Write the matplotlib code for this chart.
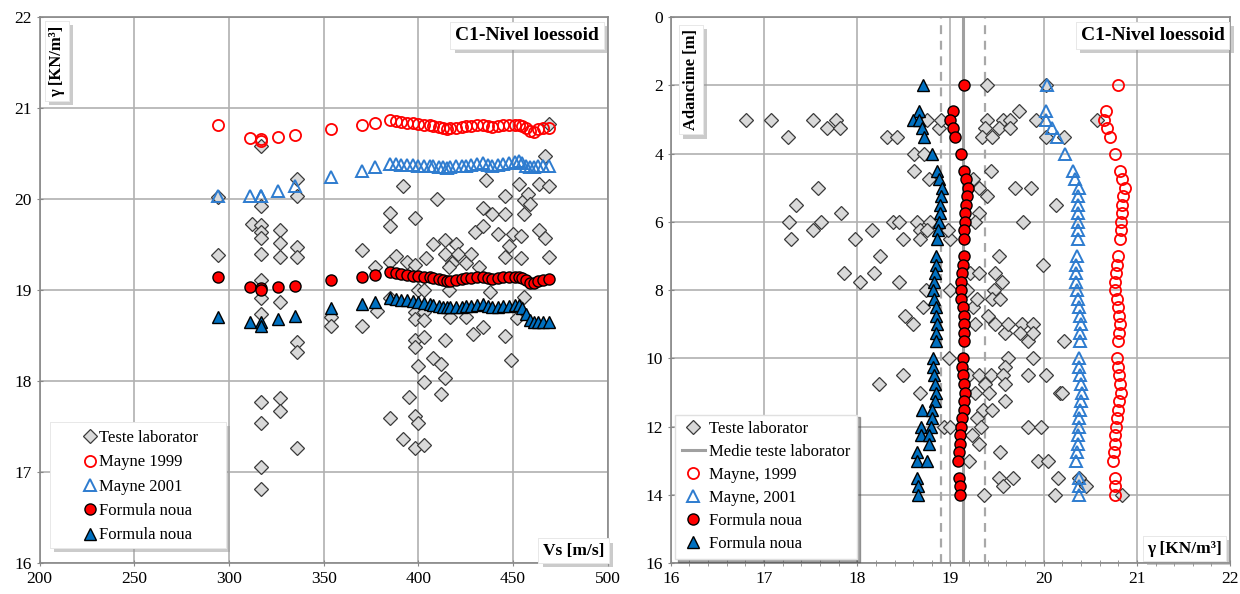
import numpy as np
import matplotlib
matplotlib.use('Agg')
import matplotlib.pyplot as plt
import matplotlib.patheffects as pe
from matplotlib.patches import Rectangle
from matplotlib.ticker import MultipleLocator

plt.rcParams['font.family'] = ['Liberation Serif', 'DejaVu Serif']

# --- gamma calculat in functie de Vs ---
vs = [294, 311, 317, 317, 326, 335, 354, 370, 377, 385, 388, 391, 394, 397,
      400, 403, 406, 408, 411, 413, 415, 417, 420, 423, 425, 428, 431, 434,
      437, 439, 442, 445, 448, 451, 453, 455, 457, 459, 461, 463, 466, 469]
g99_vs = [20.81, 20.67, 20.66, 20.64, 20.68, 20.71, 20.77, 20.82, 20.84, 20.87,
          20.86, 20.85, 20.84, 20.84, 20.83, 20.82, 20.81, 20.80, 20.79, 20.78,
          20.77, 20.78, 20.78, 20.79, 20.80, 20.80, 20.81, 20.82, 20.80, 20.79,
          20.80, 20.81, 20.81, 20.82, 20.82, 20.80, 20.78, 20.75, 20.74, 20.77,
          20.78, 20.78]
g01_vs = [20.04, 20.04, 20.04, 20.03, 20.09, 20.14, 20.24, 20.31, 20.35, 20.39,
          20.39, 20.38, 20.38, 20.38, 20.37, 20.37, 20.36, 20.36, 20.35, 20.35,
          20.34, 20.35, 20.36, 20.37, 20.37, 20.38, 20.39, 20.40, 20.38, 20.37,
          20.38, 20.39, 20.40, 20.41, 20.42, 20.40, 20.37, 20.35, 20.35, 20.37,
          20.37, 20.37]
gnc_vs = [19.14, 19.03, 19.02, 19.00, 19.03, 19.05, 19.11, 19.15, 19.17, 19.20,
          19.19, 19.18, 19.17, 19.16, 19.16, 19.15, 19.14, 19.13, 19.12, 19.11,
          19.10, 19.10, 19.11, 19.12, 19.13, 19.13, 19.14, 19.15, 19.13, 19.12,
          19.13, 19.14, 19.14, 19.15, 19.15, 19.13, 19.11, 19.08, 19.08, 19.10,
          19.11, 19.12]
gnt_vs = [18.71, 18.65, 18.65, 18.61, 18.68, 18.72, 18.80, 18.85, 18.87, 18.91,
          18.90, 18.89, 18.89, 18.88, 18.87, 18.86, 18.85, 18.84, 18.83, 18.82,
          18.81, 18.81, 18.82, 18.82, 18.83, 18.83, 18.84, 18.85, 18.83, 18.81,
          18.82, 18.83, 18.83, 18.84, 18.84, 18.80, 18.74, 18.67, 18.65, 18.65,
          18.65, 18.65]

# teste de laborator (Vs, gamma)
lab_vs = [294, 294, 317, 312, 317, 317, 317, 317, 317, 317, 317, 317, 317, 317, 317, 317,
          327, 327, 327, 327, 327, 327, 336, 336, 336, 336, 336, 336, 336,
          354, 354, 370, 370, 377, 378, 385, 385, 385, 385, 385, 388,
          392, 392, 394, 395, 398, 398, 398, 398, 398, 398, 398, 398,
          400, 400, 400, 403, 403, 403, 403, 403, 403, 404,
          408, 408, 410, 412, 412, 414, 414, 414, 414, 416, 417, 418, 420, 421,
          425, 425, 428, 429, 430, 434, 434, 434, 436, 439, 438, 442, 446, 446,
          446, 446, 448, 449, 450, 452, 453, 454, 454, 456, 456, 456, 458, 459,
          464, 464, 467, 467, 469, 469, 469, 432, 416]
lab_g = [20.02, 19.39, 20.58, 19.73, 19.92, 19.72, 19.64, 19.57, 19.40, 19.11, 18.91, 18.74, 17.77, 17.54, 17.06, 16.81,
         19.66, 19.52, 19.37, 18.87, 17.82, 17.67, 20.22, 20.04, 19.47, 19.37, 18.43, 18.32, 17.26,
         18.71, 18.61, 19.44, 18.61, 19.26, 18.77, 19.85, 19.70, 19.31, 18.91, 17.59, 19.38,
         20.14, 17.36, 19.31, 17.83, 19.79, 19.28, 18.76, 18.68, 18.45, 18.38, 17.62, 17.26,
         19.00, 18.17, 17.54, 18.76, 18.67, 18.49, 17.99, 17.30, 19.00, 19.35,
         19.51, 18.25, 20.00, 18.19, 17.86, 19.55, 19.40, 18.45, 18.04, 19.00, 18.71, 19.30, 19.51, 19.40,
         19.30, 18.71, 19.40, 18.52, 19.64, 19.90, 19.70, 18.60, 20.21, 19.84, 18.98, 19.62, 20.03, 19.84,
         19.37, 18.50, 19.48, 18.23, 19.62, 18.69, 20.17, 19.59, 19.35, 19.99, 19.84, 18.92, 20.06, 19.95,
         20.17, 19.66, 19.57, 20.47, 20.83, 20.14, 19.37, 19.26, 19.26]

# --- gamma calculat in functie de adancime ---
depth = [2, 2.75, 3, 3.25, 3.5, 4, 4.5, 4.75, 5, 5.25, 5.5, 5.75, 6, 6.25, 6.5,
         7, 7.25, 7.5, 7.75, 8, 8.25, 8.5, 8.75, 9, 9.25, 9.5, 10, 10.25, 10.5,
         10.75, 11, 11.25, 11.5, 11.75, 12, 12.25, 12.5, 12.75, 13, 13.5, 13.75, 14]
g99_z = [20.80, 20.67, 20.65, 20.68, 20.71, 20.77, 20.82, 20.84, 20.87, 20.85,
         20.84, 20.84, 20.83, 20.83, 20.82, 20.80, 20.79, 20.78, 20.77, 20.76,
         20.79, 20.80, 20.81, 20.82, 20.81, 20.80, 20.79, 20.80, 20.81, 20.82,
         20.83, 20.81, 20.80, 20.79, 20.78, 20.77, 20.76, 20.75, 20.74, 20.77,
         20.77, 20.77]
g01_z = [20.04, 20.03, 20.03, 20.09, 20.14, 20.23, 20.31, 20.34, 20.38, 20.37,
         20.37, 20.37, 20.37, 20.37, 20.37, 20.36, 20.35, 20.35, 20.35, 20.36,
         20.37, 20.38, 20.39, 20.40, 20.39, 20.39, 20.38, 20.38, 20.39, 20.40,
         20.41, 20.40, 20.39, 20.38, 20.38, 20.37, 20.37, 20.36, 20.35, 20.38,
         20.38, 20.38]
gnc_z = [19.14, 19.03, 19.00, 19.03, 19.05, 19.11, 19.15, 19.17, 19.19, 19.18,
         19.17, 19.16, 19.16, 19.15, 19.14, 19.14, 19.13, 19.12, 19.11, 19.11,
         19.11, 19.13, 19.14, 19.15, 19.14, 19.14, 19.13, 19.12, 19.13, 19.15,
         19.16, 19.15, 19.14, 19.12, 19.11, 19.10, 19.10, 19.09, 19.08, 19.09,
         19.10, 19.10]
depth_t = [2, 2.75, 3, 3, 3.25, 3.5, 4, 4.5, 4.75, 5, 5.25, 5.5, 5.75, 6, 6.25, 6.5,
           7, 7.25, 7.5, 7.75, 8, 8.25, 8.5, 8.75, 9, 9.25, 9.5, 10, 10.25, 10.5,
           10.75, 11, 11.25, 11.5, 11.5, 11.75, 12, 12, 12.25, 12.25, 12.5, 12.75,
           13, 13, 13.5, 13.75, 14]
gnt_z = [18.71, 18.66, 18.60, 18.66, 18.69, 18.72, 18.80, 18.86, 18.88, 18.91,
         18.90, 18.89, 18.89, 18.88, 18.87, 18.86, 18.85, 18.84, 18.83, 18.82,
         18.81, 18.82, 18.84, 18.85, 18.86, 18.85, 18.84, 18.81, 18.81, 18.82,
         18.83, 18.84, 18.83, 18.70, 18.80, 18.80, 18.68, 18.79, 18.68, 18.77,
         18.77, 18.64, 18.64, 18.75, 18.64, 18.65, 18.65]

# teste de laborator (gamma, adancime)
lab_gz = [19.39, 20.03, 16.81, 17.07, 17.53, 17.77, 17.68, 17.82, 17.26, 18.32, 18.43,
          18.75, 18.88, 18.90, 19.39, 19.56, 19.73, 19.64, 19.92, 19.37, 19.52, 19.64,
          19.34, 19.45, 20.03, 20.22, 20.57, 18.61, 18.72, 18.61, 19.43, 18.77, 19.24,
          19.31, 19.39, 19.69, 19.86, 20.13, 17.58, 17.34, 17.83, 17.27, 17.61, 17.53,
          17.29, 17.98, 18.16, 18.38, 18.45, 18.49, 18.64, 18.67, 18.67, 18.78, 18.75,
          18.99, 18.97, 19.31, 19.26, 19.78, 18.24, 19.52, 19.99, 17.86, 18.03, 18.18,
          18.45, 19.21, 19.31, 19.48, 19.55, 18.74, 18.99, 19.18, 19.47, 18.51, 18.60,
          18.71, 19.24, 19.29, 19.45, 19.53, 19.40, 19.26, 19.48, 19.58, 19.62, 19.77,
          19.75, 19.83, 19.89, 19.89, 20.22, 18.98, 19.62, 19.89, 19.58, 18.49, 18.23,
          19.20, 19.31, 19.43, 19.56, 19.83, 20.03, 19.37, 19.59, 18.67, 19.26, 19.41,
          20.17, 20.20, 19.58, 19.35, 19.45, 19.29, 18.93, 18.99, 19.33, 19.83, 19.97,
          19.23, 19.31, 19.53, 19.20, 19.94, 20.05, 19.52, 19.67, 19.56, 20.15, 20.45,
          20.38, 19.36, 20.12, 20.84]
lab_z = [2, 2, 3, 3, 3, 3, 3.25, 3.25, 3.5, 3.5, 3.5,
         3, 3.25, 3, 3, 3, 2.75, 3, 3, 3.25, 3.25, 3.25,
         3.5, 3.5, 3.5, 3.5, 3, 4, 4, 4.5, 4.5, 4.75, 4.75,
         5, 5.25, 5, 5, 5.5, 5, 5.5, 5.75, 6, 6, 6.25,
         6.5, 6.5, 6.25, 6, 6, 6.5, 6, 6.25, 6.5, 6, 6.25,
         6.5, 6.25, 5.75, 6, 6, 7, 7, 7.25, 7.5, 7.75, 7.5,
         7.75, 7.5, 7.5, 7.5, 7.75, 8, 8, 8, 8, 8.75, 9,
         8.5, 8.5, 8.25, 8.25, 8.25, 8.75, 9, 9, 9.25, 9, 9,
         9.25, 9.5, 9, 9.25, 9.5, 10, 10, 10, 10.25, 10.5, 10.75,
         10.5, 10.5, 10.5, 10.5, 10.5, 10.5, 10.75, 10.75, 11, 11, 11,
         11, 11, 11.25, 11.5, 11.5, 11.75, 12, 12, 12, 12, 12,
         12.25, 12.5, 12.75, 13, 13, 13, 13.5, 13.5, 13.75, 13.5, 13.75,
         13.5, 14, 14, 14]

lab_mean = 19.13
lab_lo, lab_hi = 18.90, 19.37

red = '#ff0000'
blue = '#0070c0'
blue_open = '#2e7ccf'
grid_col = '#b0b0b0'

sty_lab = dict(ls='none', marker='D', ms=7.5, mfc='#d9d9d9', mec='#3a3a3a', mew=0.9)
sty_99 = dict(ls='none', marker='o', ms=8, mfc='none', mec=red, mew=1.3)
sty_01 = dict(ls='none', marker='^', ms=8, mfc='none', mec=blue_open, mew=1.4)
sty_nc = dict(ls='none', marker='o', ms=8, mfc=red, mec='black', mew=1.0)
sty_nt = dict(ls='none', marker='^', ms=8, mfc=blue, mec='black', mew=1.0)

shadow = [pe.withSimplePatchShadow(offset=(3, -3), shadow_rgbFace='#999999', alpha=0.5), pe.Normal()]


def label_box(ax, x, y, s, size=14, **kw):
    t = ax.text(x, y, s, transform=ax.transAxes, fontsize=size, fontweight='bold',
                zorder=10, bbox=dict(boxstyle='square,pad=0.25', fc='white', ec='#e6e6e6', lw=0.6),
                **kw)
    t.get_bbox_patch().set_path_effects(shadow)
    return t


def style_axes(ax):
    ax.grid(True, color=grid_col, lw=1.2)
    ax.set_axisbelow(True)
    for sp in ax.spines.values():
        sp.set_color('#888888')
        sp.set_linewidth(1.2)
    ax.tick_params(labelsize=12.5, length=4, color='#888888', direction='inout')


fig = plt.figure(figsize=(12.4, 5.94), dpi=100)

# ----- panoul stang: gamma vs Vs -----
ax1 = fig.add_axes([0.032, 0.052, 0.458, 0.919])
ax1.plot(lab_vs, lab_g, label='Teste laborator', **sty_lab)
ax1.plot(vs, g99_vs, label='Mayne 1999', **sty_99)
ax1.plot(vs, g01_vs, label='Mayne 2001', **sty_01)
ax1.plot(vs, gnc_vs, label='Formula noua', **sty_nc)
ax1.plot(vs, gnt_vs, label='Formula noua', **sty_nt)
ax1.set_xlim(200, 500)
ax1.set_ylim(16, 22)
ax1.set_xticks(np.arange(200, 501, 50))
ax1.set_yticks(np.arange(16, 23, 1))
style_axes(ax1)
label_box(ax1, 0.985, 0.982, 'C1-Nivel loessoid', ha='right', va='top')
label_box(ax1, 0.016, 0.985, 'γ [KN/m³]', size=12, ha='left', va='top', rotation=90)
label_box(ax1, 0.994, 0.008, 'Vs [m/s]', size=12.5, ha='right', va='bottom')

# cadru legenda cu umbra
frame1 = Rectangle((0.018, 0.028), 0.31, 0.23, transform=ax1.transAxes, fc='white',
                   ec='#e6e6e6', lw=0.6, zorder=9)
frame1.set_path_effects(shadow)
ax1.add_patch(frame1)
leg1 = ax1.legend(loc='center', bbox_to_anchor=(0.176, 0.140), frameon=False,
                  fontsize=12, handletextpad=0.05, handlelength=1.0,
                  labelspacing=0.5, borderpad=0.0)
leg1.set_zorder(11)

# ----- panoul drept: gamma vs adancime -----
ax2 = fig.add_axes([0.541, 0.052, 0.451, 0.919])
ax2.plot(lab_gz, lab_z, label='Teste laborator', **sty_lab)
ax2.axvline(lab_mean, color='#a0a0a0', lw=2.2, label='Medie teste laborator', zorder=1.5)
ax2.axvline(lab_lo, color='#a8a8a8', lw=1.6, ls='--', dashes=(4, 3), zorder=1.5)
ax2.axvline(lab_hi, color='#a8a8a8', lw=1.6, ls='--', dashes=(4, 3), zorder=1.5)
ax2.plot(g99_z, depth, label='Mayne, 1999', **sty_99)
ax2.plot(g01_z, depth, label='Mayne, 2001', **sty_01)
ax2.plot(gnc_z, depth, label='Formula noua', **sty_nc)
ax2.plot(gnt_z, depth_t, label='Formula noua', **sty_nt)
ax2.set_xlim(16, 22)
ax2.set_ylim(16, 0)
ax2.set_xticks(np.arange(16, 23, 1))
ax2.set_yticks(np.arange(0, 17, 2))
ax2.xaxis.set_minor_locator(MultipleLocator(0.2))
style_axes(ax2)
ax2.tick_params(axis='x', which='minor', length=4, color='#888888', direction='inout')
label_box(ax2, 0.99, 0.982, 'C1-Nivel loessoid', ha='right', va='top')
label_box(ax2, 0.022, 0.978, 'Adancime [m]', size=12, ha='left', va='top', rotation=90)
label_box(ax2, 0.985, 0.012, 'γ [KN/m³]', size=12.5, ha='right', va='bottom')
leg2 = ax2.legend(loc='lower left', bbox_to_anchor=(0.0, 0.0), frameon=True, shadow=True,
                  fancybox=False, fontsize=12, handletextpad=0.25, handlelength=1.4,
                  borderpad=0.4, labelspacing=0.42, borderaxespad=0.25)
leg2.get_frame().set_edgecolor('#e0e0e0')

fig.savefig('out.png', dpi=100)
